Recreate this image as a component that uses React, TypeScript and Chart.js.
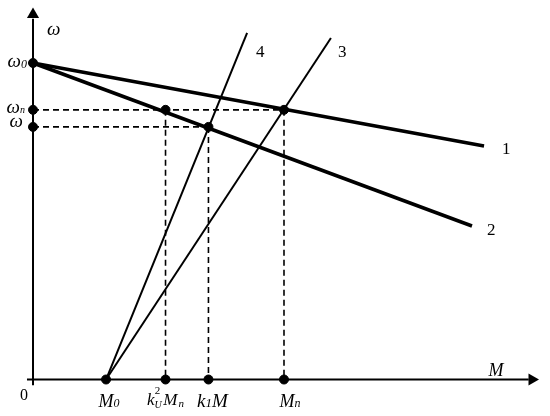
import React, { useEffect, useRef } from "react";
import { Chart, registerables } from "chart.js";

Chart.register(...registerables);

// Levels of angular speed (ω0, ωn, ω) and torque points (M0, k_U²Mn, k1M, Mn)
const omegaLevels = [100, 85.2, 79.8];
const torquePoints = [29.1, 52.8, 69.9, 100];

// Characteristic lines (x = torque, y = speed)
const line1X = [0, 179.7];
const line1Y = [100, 73.8];
const line2X = [0, 174.9];
const line2Y = [100, 48.5];
const line3X = [29.1, 118.7];
const line3Y = [0, 107.9];
const line4X = [29.1, 85.3];
const line4Y = [0, 109.5];

const curveLabels = ["1", "2", "3", "4"];

const pts = (xs: number[], ys: number[]) => xs.map((x, i) => ({ x, y: ys[i] }));

const serif = (size: number, italic = true) =>
  `${italic ? "italic " : ""}${size}px "Liberation Serif", "DejaVu Serif", serif`;

type Part = { t: string; size: number; dy?: number; italic?: boolean; dx?: number };

function drawRich(ctx: CanvasRenderingContext2D, x: number, y: number, parts: Part[], align: "left" | "center" | "right") {
  let total = 0;
  const widths = parts.map((p) => {
    ctx.font = serif(p.size, p.italic !== false);
    const w = ctx.measureText(p.t).width + (p.dx || 0);
    total += w;
    return w;
  });
  let cx = align === "left" ? x : align === "center" ? x - total / 2 : x - total;
  parts.forEach((p, i) => {
    ctx.font = serif(p.size, p.italic !== false);
    ctx.fillText(p.t, cx + (p.dx || 0), y + (p.dy || 0));
    cx += widths[i];
  });
}

const labelPlugin = {
  id: "labels",
  afterDatasetsDraw(chart: any) {
    const ctx: CanvasRenderingContext2D = chart.ctx;
    const xs = chart.scales.x;
    const ys = chart.scales.y;
    const X = (v: number) => xs.getPixelForValue(v);
    const Y = (v: number) => ys.getPixelForValue(v);
    ctx.save();
    ctx.fillStyle = "#000";
    ctx.textBaseline = "alphabetic";
    const x0 = X(0);
    const yb = Y(0);

    // axis titles
    drawRich(ctx, x0 + 14, Y(108.7), [{ t: "ω", size: 19 }], "left");
    drawRich(ctx, X(184.5), yb - 4, [{ t: "M", size: 18 }], "center");
    drawRich(ctx, x0 - 9, yb + 20, [{ t: "0", size: 16, italic: false }], "center");

    // speed labels
    drawRich(ctx, x0 - 6, Y(omegaLevels[0]) + 4, [{ t: "ω", size: 19 }, { t: "0", size: 12, dy: 1 }], "right");
    drawRich(ctx, x0 - 8, Y(omegaLevels[1]) + 3, [{ t: "ω", size: 19 }, { t: "n", size: 10, dy: 0 }], "right");
    drawRich(ctx, x0 - 10, Y(omegaLevels[2]) + 0, [{ t: "ω", size: 19 }], "right");

    // torque labels
    const by = yb + 27;
    drawRich(ctx, X(torquePoints[0]) + 3, by, [{ t: "M", size: 18 }, { t: "0", size: 12, dy: 0 }], "center");
    drawRich(ctx, X(torquePoints[1]), by - 2, [
      { t: "k", size: 17 },
      { t: "U", size: 10, dy: 3, dx: 0 },
      { t: "2", size: 11, dy: -11, dx: -7, italic: false },
      { t: "M", size: 17, dx: 3 },
      { t: "n", size: 11, dy: 2, dx: 1 },
    ], "center");
    drawRich(ctx, X(torquePoints[2]) + 4, by, [
      { t: "k", size: 19 },
      { t: "1", size: 13, dy: 0 },
      { t: "M", size: 19 },
    ], "center");
    drawRich(ctx, X(torquePoints[3]) + 6, by, [{ t: "M", size: 18 }, { t: "n", size: 12, dy: 0 }], "center");

    // curve numbers
    ctx.font = serif(17, false);
    ctx.textAlign = "left";
    ctx.fillText(curveLabels[0], X(line1X[1]) + 18, Y(line1Y[1]) + 8);
    ctx.fillText(curveLabels[1], X(line2X[1]) + 15, Y(line2Y[1]) + 9);
    ctx.fillText(curveLabels[2], X(line3X[1]) + 7, Y(line3Y[1]) + 19);
    ctx.fillText(curveLabels[3], X(line4X[1]) + 9, Y(line4Y[1]) + 24);
    ctx.restore();
  },
};

export default function App() {
  const ref = useRef<HTMLCanvasElement>(null);
  useEffect(() => {
    if (!ref.current) return;
    const [w0, wn, w1] = omegaLevels;
    const [m0, ku, k1, mn] = torquePoints;
    const dashed = (data: any[]) => ({
      data,
      borderColor: "#000",
      borderWidth: 1.6,
      borderDash: [6, 4],
      pointRadius: 0,
      showLine: true,
      fill: false,
    });
    const solid = (data: any[], width: number) => ({
      data,
      borderColor: "#000",
      borderWidth: width,
      pointRadius: 0,
      showLine: true,
      fill: false,
    });
    const chart = new Chart(ref.current, {
      type: "scatter",
      data: {
        datasets: [
          // axes
          solid([{ x: 0, y: -1.8 }, { x: 0, y: 114 }], 2),
          solid([{ x: -2.4, y: 0 }, { x: 197.5, y: 0 }], 2),
          // dashed guides
          dashed([{ x: 0, y: wn }, { x: mn, y: wn }]),
          dashed([{ x: 0, y: w1 }, { x: k1, y: w1 }]),
          dashed([{ x: ku, y: wn }, { x: ku, y: 0 }]),
          dashed([{ x: k1, y: w1 }, { x: k1, y: 0 }]),
          dashed([{ x: mn, y: wn }, { x: mn, y: 0 }]),
          // characteristics
          solid(pts(line1X, line1Y), 3.5),
          solid(pts(line2X, line2Y), 3.5),
          solid(pts(line3X, line3Y), 2),
          solid(pts(line4X, line4Y), 2),
          // markers
          {
            data: [
              { x: 0, y: w0 },
              { x: 0, y: wn },
              { x: 0, y: w1 },
              { x: ku, y: wn },
              { x: k1, y: w1 },
              { x: mn, y: wn },
              { x: m0, y: 0 },
              { x: ku, y: 0 },
              { x: k1, y: 0 },
              { x: mn, y: 0 },
            ],
            backgroundColor: "#000",
            borderColor: "#000",
            pointRadius: 4.5,
            showLine: false,
          },
          // arrowheads
          {
            data: [{ x: 0, y: 115.3 }],
            pointStyle: "triangle",
            pointRadius: 7,
            backgroundColor: "#000",
            borderColor: "#000",
            borderWidth: 0,
            showLine: false,
          },
          {
            data: [{ x: 198.8, y: 0 }],
            pointStyle: "triangle",
            pointRotation: 90,
            pointRadius: 7,
            backgroundColor: "#000",
            borderColor: "#000",
            borderWidth: 0,
            showLine: false,
          },
        ] as any,
      },
      options: {
        animation: false,
        responsive: false,
        maintainAspectRatio: false,
        layout: { padding: 0, autoPadding: false },
        plugins: { legend: { display: false }, tooltip: { enabled: false } },
        scales: {
          x: { type: "linear", min: -13.15, max: 205.98, display: false },
          y: { type: "linear", min: -11.53, max: 119.9, display: false },
        },
      } as any,
      plugins: [labelPlugin],
    });
    return () => chart.destroy();
  }, []);
  return (
    <div style={{ position: "absolute", left: 0, top: 0, width: 550, height: 416, background: "#fff" }}>
      <canvas ref={ref} width={550} height={416} />
    </div>
  );
}
